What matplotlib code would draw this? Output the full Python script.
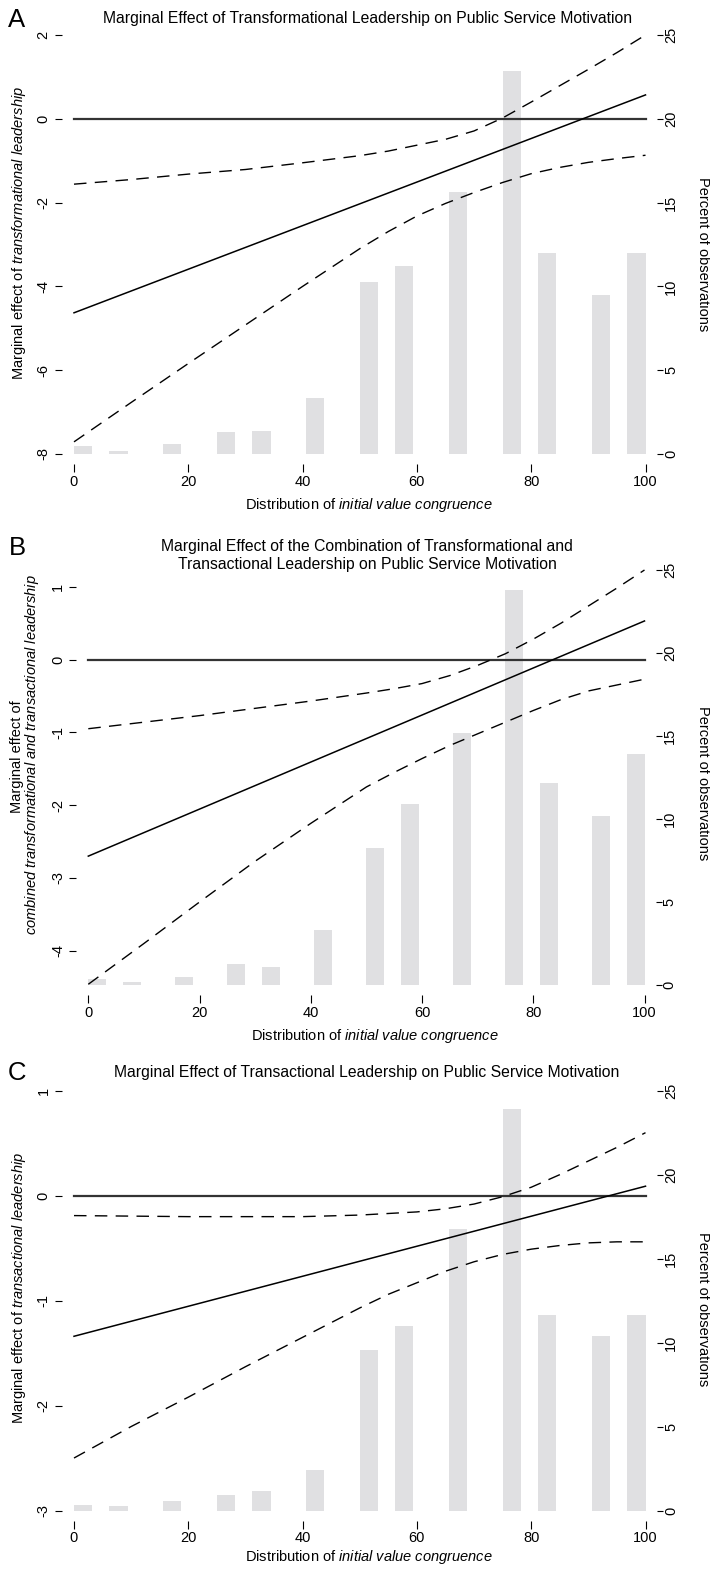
import matplotlib
matplotlib.use('Agg')
import matplotlib.pyplot as plt

plt.rcParams['font.family'] = 'Liberation Sans'
plt.rcParams['mathtext.fontset'] = 'custom'
plt.rcParams['mathtext.rm'] = 'Liberation Sans'
plt.rcParams['mathtext.it'] = 'Liberation Sans:italic'

# histogram of initial value congruence (left bin edges, percent of observations)
bin_left = [0, 6.2, 15.6, 25, 31.2, 40.6, 50, 56.2, 65.6, 75, 81.2, 90.6, 96.8]
pct_A = [0.46, 0.2, 0.62, 1.29, 1.35, 3.34, 10.24, 11.23, 15.65, 22.88, 11.99, 9.46, 11.99]
pct_B = [0.38, 0.18, 0.5, 1.24, 1.08, 3.3, 8.26, 10.92, 15.17, 23.81, 12.14, 10.2, 13.91]
pct_C = [0.3, 0.24, 0.54, 0.94, 1.16, 2.39, 9.56, 10.96, 16.77, 23.9, 11.65, 10.4, 11.65]

# marginal effect (straight line, ends at 0 and 100) and 95% CI bounds
x_ends = [0, 100]
eff_A = [-4.63, 0.57]
eff_B = [-2.70, 0.53]
eff_C = [-1.34, 0.09]

x_ci = [0, 10, 20, 30, 40, 50, 55, 60, 65, 70, 75, 80, 85, 90, 95, 100]
up_A = [-1.56, -1.45, -1.32, -1.21, -1.05, -0.88, -0.77, -0.63, -0.49, -0.29, 0.02, 0.40, 0.79, 1.18, 1.58, 2.00]
lo_A = [-7.71, -6.77, -5.84, -4.92, -4.00, -3.10, -2.69, -2.32, -2.02, -1.76, -1.52, -1.31, -1.16, -1.04, -0.95, -0.87]
up_B = [-0.95, -0.86, -0.77, -0.67, -0.57, -0.46, -0.40, -0.33, -0.22, -0.08, 0.08, 0.28, 0.50, 0.74, 0.98, 1.23]
lo_B = [-4.46, -3.90, -3.33, -2.77, -2.25, -1.75, -1.55, -1.36, -1.18, -1.02, -0.86, -0.70, -0.55, -0.43, -0.35, -0.27]
up_C = [-0.19, -0.195, -0.20, -0.20, -0.20, -0.185, -0.17, -0.155, -0.125, -0.08, -0.01, 0.08, 0.20, 0.33, 0.46, 0.60]
lo_C = [-2.50, -2.20, -1.92, -1.63, -1.35, -1.07, -0.94, -0.83, -0.72, -0.63, -0.56, -0.51, -0.475, -0.45, -0.44, -0.44]

W, H = 710, 1569
fig = plt.figure(figsize=(W / 100, H / 100), dpi=100)

def fx(px):
    return px / W

def fy(py):
    return 1 - py / H

def panel(x0, x100, top, bottom, ylim, yticks, pct, eff, up, lo):
    s = (x100 - x0) / 100.0
    left = x0 - s
    right = x100 + s
    ax = fig.add_axes([fx(left), fy(bottom), fx(right) - fx(left), fy(top) - fy(bottom)])
    ax2 = ax.twinx()
    ax2.bar(bin_left, pct, width=3.2, align='edge', color='#e0e0e2', linewidth=0)
    ax2.set_ylim(0, 25)
    ax.set_xlim(-1, 101)
    ax.set_ylim(*ylim)
    ax.set_zorder(ax2.get_zorder() + 1)
    ax.patch.set_visible(False)

    ax.plot([0, 100], [0, 0], color='#333333', lw=1.6, clip_on=False)
    ax.plot(x_ends, eff, color='black', lw=1.1, clip_on=False)
    ax.plot(x_ci, up, color='black', lw=1.0, ls=(0, (9, 6)), clip_on=False)
    ax.plot(x_ci, lo, color='black', lw=1.0, ls=(0, (9, 6)), clip_on=False)

    for a in (ax, ax2):
        for sp in a.spines.values():
            sp.set_visible(False)
    ax.spines['left'].set_position(('outward', 4.7))
    ax.spines['bottom'].set_position(('outward', 7.5))
    ax2.spines['right'].set_position(('outward', 4.3))

    ax.set_xticks([0, 20, 40, 60, 80, 100])
    ax.set_yticks(yticks)
    ax.set_yticklabels([str(t) for t in yticks])
    ax2.set_yticks([0, 5, 10, 15, 20, 25])
    ax.tick_params(axis='x', length=5.5, width=0.8, pad=2.0, labelsize=10.5)
    ax.tick_params(axis='y', length=4.8, width=0.8, pad=3.2, labelsize=10.5)
    ax2.tick_params(axis='y', length=4.3, width=0.8, pad=0.6, labelsize=10.5)
    for t in ax.get_yticklabels():
        t.set_rotation(90)
        t.set_va('center')
        t.set_ha('right')
    for t in ax2.get_yticklabels():
        t.set_rotation(90)
        t.set_va('center')
        t.set_ha('left')
    return ax

panel(74, 645.5, 35, 454, (-8, 2), [-8, -6, -4, -2, 0, 2], pct_A, eff_A, up_A, lo_A)
panel(88.3, 644.5, 570, 985, (-4.47, 1.23), [-4, -3, -2, -1, 0, 1], pct_B, eff_B, up_B, lo_B)
panel(74, 645.5, 1090.7, 1510.5, (-3, 1), [-3, -2, -1, 0, 1], pct_C, eff_C, up_C, lo_C)

# panel letters
for letter, py in [('A', 20), ('B', 548), ('C', 1073)]:
    fig.text(fx(17), fy(py), letter, fontsize=18.5, ha='center', va='center')

# titles
ts = 11.3
fig.text(fx(368), fy(19), 'Marginal Effect of Transformational Leadership on Public Service Motivation',
         fontsize=ts, ha='center', va='center')
fig.text(fx(367), fy(547), 'Marginal Effect of the Combination of Transformational and',
         fontsize=ts, ha='center', va='center')
fig.text(fx(367), fy(565), 'Transactional Leadership on Public Service Motivation',
         fontsize=ts, ha='center', va='center')
fig.text(fx(367), fy(1073), 'Marginal Effect of Transactional Leadership on Public Service Motivation',
         fontsize=ts, ha='center', va='center')

# x labels
ls_ = 10.5
xlab = r'Distribution of $\mathit{initial\ value\ congruence}$'
fig.text(fx(369), fy(505), xlab, fontsize=ls_, ha='center', va='center')
fig.text(fx(375), fy(1036), xlab, fontsize=ls_, ha='center', va='center')
fig.text(fx(369), fy(1557), xlab, fontsize=ls_, ha='center', va='center')

# left y labels
fig.text(fx(19), fy(233), r'Marginal effect of $\mathit{transformational\ leadership}$',
         fontsize=ls_, rotation=90, ha='center', va='center')
fig.text(fx(17), fy(757), 'Marginal effect of', fontsize=ls_, rotation=90, ha='center', va='center')
fig.text(fx(32), fy(755),
         r'$\mathit{combined\ transformational\ and\ transactional\ leadership}$',
         fontsize=ls_, rotation=90, ha='center', va='center')
fig.text(fx(19), fy(1288), r'Marginal effect of $\mathit{transactional\ leadership}$',
         fontsize=ls_, rotation=90, ha='center', va='center')

# right y labels
for py in [254, 783, 1309]:
    fig.text(fx(703), fy(py), 'Percent of observations', fontsize=ls_, rotation=270,
             ha='center', va='center')

fig.savefig('out.png', dpi=100)
